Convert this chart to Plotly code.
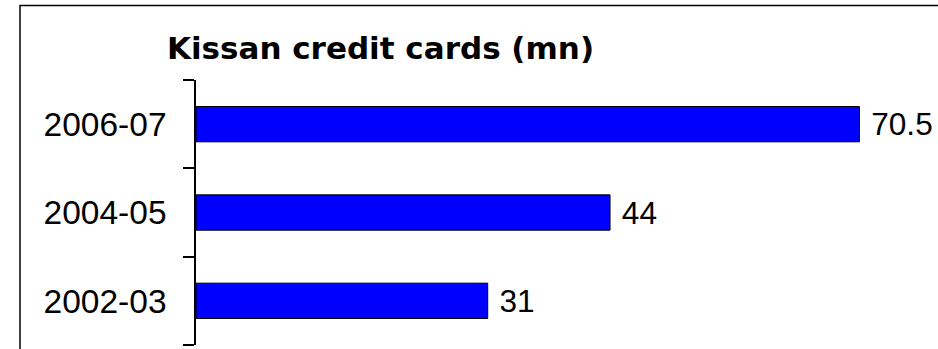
import plotly.graph_objects as go

# Kissan credit cards issued, in millions
years = ["2002-03", "2004-05", "2006-07"]
cards_mn = [31, 44, 70.5]

W, H = 938, 349
L, R, T, B = 196, 0, 80, 4
plot_w = W - L - R
plot_h = H - T - B


def px_x(px):
    return (px - L) / plot_w


def px_y(py):
    return 1 - (py - T) / plot_h


fig = go.Figure(
    go.Bar(
        y=years,
        x=cards_mn,
        orientation="h",
        width=0.4,
        marker=dict(color="#0000FF", line=dict(color="#000000", width=1)),
        texttemplate=" %{x}",
        textposition="outside",
        cliponaxis=False,
        textfont=dict(family="Liberation Sans, Arial", size=34, color="#000000"),
        hoverinfo="skip",
    )
)

fig.update_layout(
    width=W,
    height=H,
    margin=dict(l=L, r=R, t=T, b=B),
    paper_bgcolor="white",
    plot_bgcolor="white",
    showlegend=False,
    title=dict(
        text="<b>Kissan credit cards (mn)</b>",
        font=dict(family="DejaVu Sans", size=31, color="#000000"),
        xref="paper",
        x=px_x(380.5),
        xanchor="center",
        yref="container",
        y=1 - 48 / H,
        yanchor="middle",
    ),
    xaxis=dict(
        range=[0, plot_w / 9.41],
        visible=False,
        fixedrange=True,
    ),
    yaxis=dict(
        type="category",
        categoryorder="array",
        categoryarray=years,
        range=[-0.5, 2.5],
        showline=True,
        linecolor="#000000",
        linewidth=1.5,
        ticks="outside",
        ticklen=11,
        tickwidth=1.5,
        tickcolor="#000000",
        tickson="boundaries",
        ticklabelstandoff=21,
        showgrid=False,
        zeroline=False,
        tickfont=dict(family="Liberation Sans, Arial", size=33.5, color="#000000"),
    ),
    shapes=[
        dict(
            type="rect",
            xref="paper",
            yref="paper",
            x0=px_x(20),
            x1=px_x(W + 10),
            y0=px_y(H + 10),
            y1=px_y(5.5),
            line=dict(color="#000000", width=1.5),
            fillcolor="rgba(0,0,0,0)",
            layer="below",
        )
    ],
)

fig.write_html("out.html")
